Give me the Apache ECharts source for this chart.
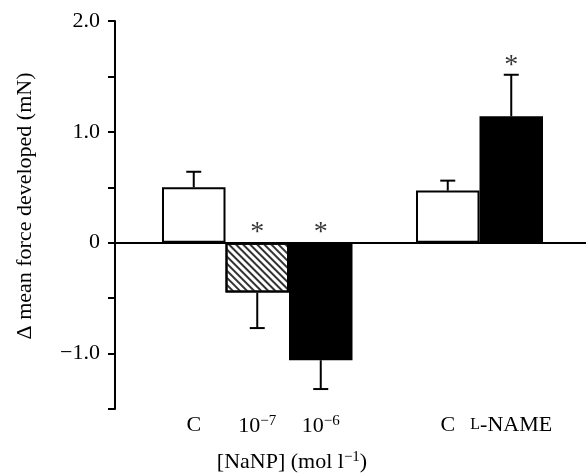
<!DOCTYPE html>
<html>
<head>
<meta charset="utf-8">
<script src="https://cdn.jsdelivr.net/npm/echarts@6/dist/echarts.min.js"></script>
<style>
  html, body { margin: 0; padding: 0; background: #fff; }
  #chart { width: 586px; height: 474px; }
</style>
</head>
<body>
<div id="chart"></div>
<script>
// bar groups: NaNP (C, 1e-7, 1e-6), gap, then C / L-NAME
const categories = ["C", "10-7", "10-6", "", "C", "L-NAME"];
const means = [0.50, -0.45, -1.06, null, 0.47, 1.14];
const errors = [0.14, 0.32, 0.26, null, 0.09, 0.375];
const starValues = [null, 0.14, 0.14, null, null, 1.64];
const yTicks = { "2": "2.0", "1": "1.0", "0": "0", "-1": "\u22121.0" };

const font = "Liberation Serif";
const chart = echarts.init(document.getElementById("chart"));

const fills = ["#fff", "#fff", "#000", null, "#fff", "#000"];

const barData = means.map((v, i) => {
  if (v === null) return null;
  const item = {
    value: v,
    itemStyle: { color: fills[i], borderColor: "#000", borderWidth: 2 }
  };
  if (i === 1) {
    item.itemStyle.decal = {
      symbol: "rect",
      symbolSize: 1,
      color: "#333",
      dashArrayX: [[1, 0]],
      dashArrayY: [1.6, 2.6],
      rotation: Math.PI / 4
    };
  }
  return item;
});

const labelRich = {
  base: { fontFamily: font, fontSize: 22, color: "#000" },
  sup: { fontFamily: font, fontSize: 15, color: "#000", verticalAlign: "bottom", padding: [0, 0, 9, 0] },
  sc: { fontFamily: font, fontSize: 16, color: "#000" }
};

function catLabel(v) {
  if (v === "10-7") return "{base|10}{sup|\u22127}";
  if (v === "10-6") return "{base|10}{sup|\u22126}";
  if (v === "L-NAME") return "{sc|L}{base|-NAME}";
  return "{base|" + v + "}";
}

chart.setOption({
  animation: false,
  grid: [
    { left: 115, right: 0, top: 21, bottom: 65 },
    { left: 162, right: 43, top: 21, bottom: 65 }
  ],
  xAxis: [
    {
      gridIndex: 0, type: "value", min: 0, max: 1,
      axisLine: { onZero: true, lineStyle: { color: "#000", width: 2 } },
      axisTick: { show: false }, axisLabel: { show: false }, splitLine: { show: false }
    },
    {
      gridIndex: 1, type: "category", data: categories,
      axisLine: { show: false }, axisTick: { show: false },
      axisLabel: {
        show: true, interval: 0, margin: 5,
        formatter: catLabel, rich: labelRich
      },
      position: "bottom"
    }
  ],
  yAxis: [
    {
      gridIndex: 0, type: "value", min: -1.5, max: 2, interval: 0.5,
      axisLine: { show: true, onZero: false, lineStyle: { color: "#000", width: 2 } },
      axisTick: { show: true, inside: false, length: 7, lineStyle: { color: "#000", width: 2 } },
      axisLabel: {
        margin: 15, fontFamily: font, fontSize: 22, color: "#000",
        formatter: v => yTicks[String(v)] || ""
      },
      splitLine: { show: false }
    },
    {
      gridIndex: 1, type: "value", min: -1.5, max: 2, interval: 0.5,
      show: false
    }
  ],
  series: [
    {
      type: "bar", xAxisIndex: 1, yAxisIndex: 1,
      data: barData, barWidth: "100%", barGap: 0, z: 3
    },
    {
      type: "custom", xAxisIndex: 1, yAxisIndex: 1, z: 4,
      data: means.map((v, i) => [i, v, errors[i]]).filter(d => d[1] !== null),
      renderItem: (params, api) => {
        const x = api.value(0);
        const m = api.value(1);
        const e = api.value(2);
        const end = m >= 0 ? m + e : m - e;
        const p0 = api.coord([x, m]);
        const p1 = api.coord([x, end]);
        const style = { stroke: "#000", lineWidth: 2 };
        return {
          type: "group",
          children: [
            { type: "line", shape: { x1: p0[0], y1: p0[1], x2: p1[0], y2: p1[1] }, style },
            { type: "line", shape: { x1: p1[0] - 7.5, y1: p1[1], x2: p1[0] + 7.5, y2: p1[1] }, style }
          ]
        };
      }
    },
    {
      type: "scatter", xAxisIndex: 1, yAxisIndex: 1, z: 5,
      symbolSize: 1, itemStyle: { color: "rgba(0,0,0,0)" },
      data: starValues,
      label: {
        show: true, position: "inside", formatter: "*",
        fontFamily: font, fontSize: 28, color: "#000", offset: [0, 5]
      }
    }
  ],
  graphic: [
    {
      type: "text", x: 25, y: 206, rotation: Math.PI / 2,
      style: {
        text: "\u0394 mean force developed (mN)",
        fontFamily: font, fontSize: 22, fill: "#000",
        align: "center", verticalAlign: "middle"
      }
    },
    {
      type: "text", x: 292, y: 462,
      style: {
        text: "{b|[NaNP] (mol l}{s|\u22121}{b|)}",
        rich: {
          b: { fontFamily: font, fontSize: 22, fill: "#000" },
          s: { fontFamily: font, fontSize: 15, fill: "#000", verticalAlign: "bottom", padding: [0, 0, 9, 0] }
        },
        align: "center", verticalAlign: "middle"
      }
    }
  ]
});
</script>
</body>
</html>
